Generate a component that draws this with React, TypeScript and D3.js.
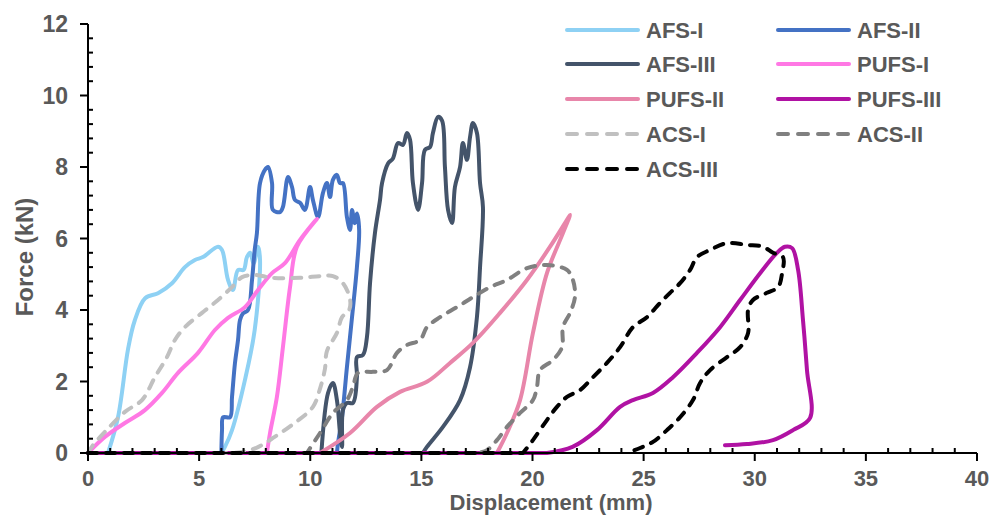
import React from "react";
import * as d3 from "d3";

type Pt = [number, number];

const xTicks = [0, 5, 10, 15, 20, 25, 30, 35, 40];
const yTicks = [0, 2, 4, 6, 8, 10, 12];

const afs1: Pt[] = [
  [0, 0], [0.9, 0], [1.35, 1.0], [1.8, 2.9], [2.1, 3.7], [2.57, 4.33], [3.15, 4.47],
  [3.78, 4.75], [4.36, 5.2], [4.81, 5.4], [5.17, 5.48], [5.85, 5.77], [6.03, 5.68],
  [6.3, 4.84], [6.52, 4.56], [6.75, 5.12], [7.0, 5.12], [7.15, 5.48], [7.3, 5.6],
  [7.45, 5.3], [7.65, 5.77], [7.74, 5.4], [7.5, 3.44], [7.06, 2.04], [6.48, 0.64],
  [6.16, 0.17], [6.0, 0],
];

const afs2: Pt[] = [
  [0, 0], [6.0, 0], [6.03, 0.64], [6.08, 1.0], [6.39, 1.0], [6.48, 1.57], [6.61, 2.5],
  [6.75, 3.16], [6.84, 3.72], [6.97, 3.9], [7.2, 4.0], [7.38, 4.84], [7.5, 5.68],
  [7.6, 6.15], [7.74, 7.55], [7.96, 7.92], [8.1, 8.0], [8.28, 7.55], [8.32, 6.8],
  [8.64, 6.74], [8.77, 6.88], [9.0, 7.72], [9.18, 7.44], [9.31, 7.08], [9.54, 7.0],
  [9.76, 6.8], [9.99, 7.44], [10.12, 7.08], [10.35, 6.6], [10.57, 7.27], [10.75, 7.55],
  [10.89, 7.16], [11.02, 7.64], [11.2, 7.78], [11.34, 7.55], [11.47, 7.55], [11.65, 6.6],
  [11.79, 6.24], [11.88, 6.8], [12.0, 6.43], [12.1, 6.7], [12.2, 6.24], [12.1, 5.2],
  [11.88, 3.8], [11.65, 2.4], [11.43, 1.0], [11.25, 0.28], [11.2, 0],
];

const afs3: Pt[] = [
  [0, 0], [10.5, 0], [10.8, 1.68], [11.02, 1.96], [11.2, 1.48], [11.34, 0.56],
  [11.43, 0.17], [11.47, 1.2], [11.65, 1.4], [11.92, 1.4], [12.1, 2.12], [12.1, 2.68],
  [12.37, 2.74], [12.55, 3.24], [12.69, 4.75], [12.91, 6.15], [13.14, 7.08],
  [13.23, 7.55], [13.5, 8.1], [13.72, 8.24], [13.95, 8.67], [14.17, 8.62], [14.35, 8.95],
  [14.49, 8.76], [14.62, 7.55], [14.85, 6.8], [15.03, 7.55], [15.16, 8.48], [15.39, 8.56],
  [15.52, 8.95], [15.75, 9.4], [15.93, 9.3], [16.06, 8.0], [16.2, 6.8], [16.38, 6.43],
  [16.51, 7.44], [16.74, 8.0], [16.87, 8.67], [17.05, 8.2], [17.19, 8.84], [17.32, 9.23],
  [17.5, 8.95], [17.64, 7.55], [17.77, 6.88], [17.64, 5.2], [17.5, 3.8], [17.19, 2.4],
  [16.74, 1.48], [15.97, 0.73], [15.25, 0.17], [15.07, 0],
];

const pufs1: Pt[] = [
  [0, 0], [0.76, 0.45], [1.66, 0.84], [2.56, 1.2], [3.33, 1.68], [4.05, 2.24],
  [4.95, 2.8], [5.71, 3.44], [6.3, 3.78], [7.06, 4.08], [7.65, 4.56], [8.28, 5.03],
  [8.86, 5.31], [9.54, 5.96], [10.3, 6.55], [9.4, 5.77], [9.09, 4.64], [8.77, 2.96],
  [8.5, 1.57], [8.19, 0.56], [8.05, 0],
];

const pufs2: Pt[] = [
  [0, 0], [10.44, 0], [11.79, 0.56], [13.0, 1.29], [14.04, 1.71], [15.25, 1.99],
  [16.29, 2.52], [17.32, 3.08], [18.54, 3.92], [19.75, 4.84], [20.79, 5.77],
  [21.55, 6.52], [21.69, 6.66], [21.37, 6.15], [20.65, 5.03], [20.02, 3.36],
  [19.44, 1.48], [18.85, 0.56], [18.4, 0],
];

const pufs3: Pt[] = [
  [0, 0], [20.65, 0], [21.8, 0.17], [22.9, 0.64], [23.94, 1.29], [24.52, 1.48],
  [25.42, 1.68], [26.32, 2.12], [27.4, 2.8], [28.44, 3.52], [29.34, 4.28], [30.24, 5.03],
  [31.0, 5.6], [31.36, 5.77], [31.68, 5.73], [31.95, 5.12], [32.17, 3.72], [32.35, 2.32],
  [32.49, 0.98], [31.72, 0.64], [30.82, 0.36], [29.65, 0.25], [28.66, 0.22],
];

const acs1: Pt[] = [
  [0, 0], [0.2, 0.2], [0.76, 0.59], [1.66, 1.15], [2.43, 1.48], [3.01, 2.12], [3.55, 2.68],
  [3.91, 3.16], [4.36, 3.52], [5.13, 3.92], [5.85, 4.28], [6.48, 4.64], [6.93, 4.92],
  [7.51, 4.98], [8.28, 4.9], [9.54, 4.9], [10.5, 4.95], [11.02, 4.95], [11.47, 4.75],
  [11.79, 4.3], [11.75, 4.0], [11.43, 3.8], [11.2, 3.36], [10.75, 2.85], [10.66, 2.35],
  [10.44, 1.8], [10.12, 1.29], [9.3, 0.84], [8.4, 0.45], [7.6, 0.15], [6.84, 0.02],
  [6.2, 0],
];

const acs2: Pt[] = [
  [0, 0], [9.85, 0], [10.44, 0.56], [11.02, 1.12], [11.65, 1.48], [11.92, 1.85],
  [12.15, 2.24], [12.82, 2.27], [13.45, 2.32], [13.9, 2.8], [14.35, 3.02], [14.94, 3.16],
  [15.25, 3.52], [15.84, 3.8], [16.6, 4.08], [17.32, 4.36], [18.09, 4.64], [18.85, 4.84],
  [19.75, 5.17], [20.65, 5.26], [21.55, 5.12], [21.82, 4.84], [21.91, 4.36], [21.69, 3.92],
  [21.37, 3.52], [21.33, 2.96], [20.92, 2.6], [20.34, 2.32], [20.2, 1.85], [20.02, 1.48],
  [19.44, 1.12], [18.85, 0.73], [18.4, 0.36], [17.95, 0.08], [17.5, 0],
];

const acs3: Pt[] = [
  [0, 0], [19.57, 0], [20.02, 0.36], [20.65, 0.92], [21.1, 1.29], [21.55, 1.57],
  [22.14, 1.76], [22.72, 2.12], [23.35, 2.52], [23.94, 2.96], [24.52, 3.52], [25.15, 3.8],
  [25.74, 4.2], [26.19, 4.48], [26.64, 4.75], [27.09, 5.12], [27.4, 5.48], [27.99, 5.68],
  [28.75, 5.87], [29.65, 5.82], [30.37, 5.77], [30.82, 5.6], [31.27, 5.48], [31.23, 5.03],
  [31.05, 4.64], [30.55, 4.48], [29.92, 4.28], [29.7, 4.0], [29.7, 3.36], [29.34, 2.96],
  [28.75, 2.68], [27.99, 2.32], [27.54, 1.96], [27.22, 1.48], [26.64, 1.0], [26.05, 0.64],
  [25.42, 0.31], [24.84, 0.14], [24.25, 0],
];

const seriesNames = ["AFS-I", "AFS-II", "AFS-III", "PUFS-I", "PUFS-II", "PUFS-III", "ACS-I", "ACS-II", "ACS-III"];
const seriesData: Pt[][] = [afs1, afs2, afs3, pufs1, pufs2, pufs3, acs1, acs2, acs3];
const seriesColors = ["#8ed1f4", "#4472c4", "#44546a", "#ff78e4", "#e886aa", "#b012a3", "#c0c0c0", "#808080", "#000000"];
const seriesDashed = [false, false, false, false, false, false, true, true, true];

const W = 1001;
const H = 516;
const textColor = "#595959";
const font = "'Liberation Sans', Arial, sans-serif";

export default function App() {
  const x = d3.scaleLinear().domain([0, 40]).range([88, 977]);
  const y = d3.scaleLinear().domain([0, 12]).range([453, 24]);
  const smooth = d3
    .line<Pt>()
    .x((d) => x(d[0]))
    .y((d) => y(d[1]))
    .curve(d3.curveCatmullRom.alpha(0.5));
  const straight = d3
    .line<Pt>()
    .x((d) => x(d[0]))
    .y((d) => y(d[1]));

  // leading flat (zero-force) run is drawn straight, the rest smoothly
  const pathFor = (d: Pt[]) => {
    let k = 0;
    while (k + 1 < d.length && d[k + 1][1] === 0) k++;
    if (k === 0) return smooth(d) || "";
    const flat = straight(d.slice(0, k + 1)) || "";
    const rest = smooth(d.slice(k)) || "";
    return flat + rest.replace(/^M[^CLZ]*/, "");
  };

  const xMinor = d3.range(0, 41, 1).filter((v) => v % 5 !== 0);
  const yMinor = d3.range(0, 12.01, 0.4).filter((v) => Math.abs(v / 2 - Math.round(v / 2)) > 0.01);

  const legendCols = [567, 778];
  const legendRows = [30, 64, 99, 134, 169];

  return (
    <svg width={W} height={H} style={{ position: "absolute", left: 0, top: 0, background: "#fff" }}>
      <rect x={0} y={0} width={W} height={H} fill="#fff" />
      {seriesData.map((d, i) => (
        <path
          key={seriesNames[i]}
          d={pathFor(d)}
          fill="none"
          stroke={seriesColors[i]}
          strokeWidth={4}
          strokeLinejoin="round"
          strokeLinecap="round"
          strokeDasharray={seriesDashed[i] ? "9 9" : undefined}
        />
      ))}
      <line x1={x(0)} x2={x(0)} y1={y(0)} y2={y(12)} stroke="#000" strokeWidth={2} />
      <line x1={x(0)} x2={x(40)} y1={y(0)} y2={y(0)} stroke="#000" strokeWidth={2} />
      {yTicks.map((t) => (
        <line key={"ym" + t} x1={x(0) - 8} x2={x(0)} y1={y(t)} y2={y(t)} stroke="#000" strokeWidth={2} />
      ))}
      {yMinor.map((t) => (
        <line key={"yn" + t} x1={x(0)} x2={x(0) + 5} y1={y(t)} y2={y(t)} stroke="#000" strokeWidth={2} />
      ))}
      {xTicks.map((t) => (
        <line key={"xm" + t} x1={x(t)} x2={x(t)} y1={y(0)} y2={y(0) + 8} stroke="#000" strokeWidth={2} />
      ))}
      {xMinor.map((t) => (
        <line key={"xn" + t} x1={x(t)} x2={x(t)} y1={y(0) - 5} y2={y(0)} stroke="#000" strokeWidth={2} />
      ))}
      {yTicks.map((t) => (
        <text
          key={"yl" + t}
          x={x(0) - 20}
          y={y(t) + 8}
          textAnchor="end"
          fontFamily={font}
          fontWeight="bold"
          fontSize={23}
          fill={textColor}
        >
          {t}
        </text>
      ))}
      {xTicks.map((t) => (
        <text
          key={"xl" + t}
          x={x(t)}
          y={486}
          textAnchor="middle"
          fontFamily={font}
          fontWeight="bold"
          fontSize={22}
          fill={textColor}
        >
          {t}
        </text>
      ))}
      <text
        x={551}
        y={510}
        textAnchor="middle"
        fontFamily={font}
        fontWeight="bold"
        fontSize={22}
        fill={textColor}
      >
        Displacement (mm)
      </text>
      <text
        transform={`translate(33,257) rotate(-90)`}
        textAnchor="middle"
        fontFamily={font}
        fontWeight="bold"
        fontSize={24}
        fill={textColor}
      >
        Force (kN)
      </text>
      {seriesNames.map((n, i) => {
        const cx = legendCols[i % 2];
        const cy = legendRows[Math.floor(i / 2)];
        return (
          <g key={"lg" + n}>
            <line
              x1={cx}
              x2={cx + 71}
              y1={cy}
              y2={cy}
              stroke={seriesColors[i]}
              strokeWidth={4}
              strokeLinecap="round"
              strokeDasharray={seriesDashed[i] ? "10 10" : undefined}
            />
            <text x={cx + 79} y={cy + 8} fontFamily={font} fontWeight="bold" fontSize={22} fill={textColor}>
              {n}
            </text>
          </g>
        );
      })}
    </svg>
  );
}
